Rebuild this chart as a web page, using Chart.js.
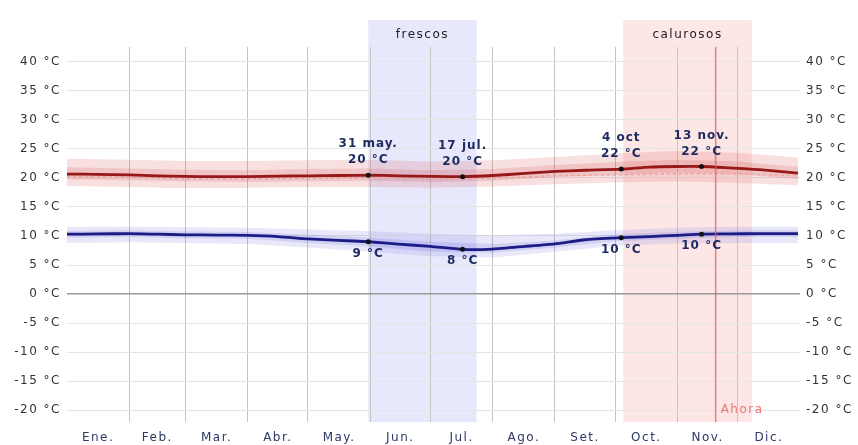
<!DOCTYPE html>
<html>
<head>
<meta charset="utf-8">
<script src="https://cdn.jsdelivr.net/npm/chart.js@4"></script>
<style>
  body { margin: 0; background: #fff; }
</style>
</head>
<body>
<canvas id="tempChart" width="858" height="445"></canvas>
<script>
// day of year for the average lines
const days = [0, 15, 31, 45, 59, 75, 90, 105, 120, 135, 150, 165, 181, 197, 212, 228, 243, 258, 276, 290, 304, 316, 330, 345, 364];
const highAvg = [20.65, 20.6, 20.5, 20.35, 20.25, 20.2, 20.2, 20.3, 20.35, 20.4, 20.45, 20.35, 20.25, 20.2, 20.4, 20.75, 21.1, 21.3, 21.5, 21.85, 21.95, 21.95, 21.7, 21.4, 20.8];
const lowAvg = [10.3, 10.35, 10.4, 10.3, 10.2, 10.15, 10.1, 9.9, 9.5, 9.25, 9.0, 8.6, 8.2, 7.7, 7.75, 8.2, 8.65, 9.35, 9.7, 9.9, 10.1, 10.3, 10.35, 10.4, 10.4];

// percentile bands (monthly)
const bandDays = [0, 31, 59, 90, 120, 151, 181, 212, 243, 273, 304, 334, 364];
const high90 = [23.3, 23.1, 22.9, 22.9, 23.0, 23.1, 22.8, 23.0, 23.6, 24.2, 24.6, 24.3, 23.5];
const high10 = [18.6, 18.4, 18.2, 18.3, 18.4, 18.4, 18.3, 18.5, 18.9, 19.2, 19.4, 19.1, 18.7];
const high75 = [21.8, 21.6, 21.4, 21.3, 21.5, 21.6, 21.3, 21.5, 22.2, 22.7, 23.1, 22.8, 21.9];
const high25 = [19.7, 19.6, 19.4, 19.3, 19.4, 19.5, 19.3, 19.5, 20.1, 20.5, 20.9, 20.6, 19.8];
const low90 = [11.6, 11.6, 11.5, 11.4, 11.1, 10.8, 10.4, 10.1, 10.4, 11.0, 11.4, 11.6, 11.6];
const low10 = [8.8, 8.9, 8.8, 8.6, 8.0, 7.3, 6.5, 6.3, 7.3, 8.3, 8.7, 8.8, 8.8];
const low75 = [10.9, 11.0, 10.8, 10.7, 10.2, 9.7, 9.0, 8.6, 9.2, 10.3, 10.7, 11.0, 11.0];
const low25 = [9.7, 9.8, 9.6, 9.5, 8.8, 8.2, 7.3, 7.1, 8.0, 9.1, 9.5, 9.8, 9.8];
const feelsHigh = [20.3, 20.1, 19.8, 19.8, 19.9, 20.0, 19.8, 19.9, 20.4, 20.5, 20.7, 20.7, 20.4];

// marked points
const markDays = [150, 197, 276, 316];
const markDates = ['31 may.', '17 jul.', '4 oct', '13 nov.'];

// axes
const months = ['Ene.', 'Feb.', 'Mar.', 'Abr.', 'May.', 'Jun.', 'Jul.', 'Ago.', 'Set.', 'Oct.', 'Nov.', 'Dic.'];
const monthStarts = [0, 31, 59, 90, 120, 151, 181, 212, 243, 273, 304, 334, 365];
const yTicks = [-20, -15, -10, -5, 0, 5, 10, 15, 20, 25, 30, 35, 40];

// seasons and "now"
const seasons = [
    { label: 'frescos', from: 150, to: 204, color: 'rgba(205,205,250,0.45)' },
    { label: 'calurosos', from: 277, to: 341, color: 'rgba(252,205,205,0.5)' }
];
const today = 323;

const FONT = '"DejaVu Sans", sans-serif';

const pts = (xs, ys) => xs.map((d, i) => ({ x: d, y: ys[i] }));
const monthMids = months.map((m, i) => (monthStarts[i] + monthStarts[i + 1]) / 2);

function band(xs, ys, color, fill, order) {
    return { data: pts(xs, ys), borderWidth: 0, pointRadius: 0, backgroundColor: color, fill, order };
}

const seasonPlugin = {
    id: 'seasons',
    beforeDraw(chart) {
        const { ctx, chartArea, scales: { x } } = chart;
        ctx.save();
        ctx.letterSpacing = '1.5px';
        seasons.forEach(s => {
            const x0 = x.getPixelForValue(s.from), x1 = x.getPixelForValue(s.to);
            ctx.fillStyle = s.color;
            ctx.fillRect(x0, 20, x1 - x0, chartArea.bottom - 20);
            ctx.fillStyle = '#222';
            ctx.font = '12px ' + FONT;
            ctx.textAlign = 'center';
            ctx.textBaseline = 'middle';
            ctx.fillText(s.label, (x0 + x1) / 2, 35);
        });
        ctx.restore();
        ctx.letterSpacing = '1.5px';
    },
    afterDatasetsDraw(chart) {
        const { ctx, chartArea, scales: { x, y } } = chart;
        ctx.save();
        ctx.letterSpacing = '1.5px';
        // now line
        const nx = x.getPixelForValue(today);
        ctx.strokeStyle = 'rgba(230,90,90,0.75)';
        ctx.lineWidth = 1.5;
        ctx.beginPath();
        ctx.moveTo(nx, chartArea.top);
        ctx.lineTo(nx, chartArea.bottom);
        ctx.stroke();
        ctx.fillStyle = '#ee7474';
        ctx.font = '12px ' + FONT;
        ctx.textAlign = 'left';
        ctx.textBaseline = 'middle';
        ctx.fillText('Ahora', nx + 5, 410);

        // mark labels
        ctx.letterSpacing = '1px';
        ctx.font = 'bold 12px ' + FONT;
        ctx.fillStyle = '#1f2c62';
        ctx.textAlign = 'center';
        markDays.forEach((d, i) => {
            const px = x.getPixelForValue(d);
            const hv = highAvg[days.indexOf(d)];
            const hy = y.getPixelForValue(hv);
            ctx.textBaseline = 'bottom';
            ctx.fillText(markDates[i], px, hy - 25);
            ctx.fillText(Math.round(hv) + ' °C', px, hy - 9);
            const lv = lowAvg[days.indexOf(d)];
            const ly = y.getPixelForValue(lv);
            ctx.textBaseline = 'top';
            ctx.fillText(Math.round(lv) + ' °C', px, ly + 6);
        });
        ctx.restore();
    }
};

const yAxis = (position, width) => ({
    type: 'linear',
    position,
    min: -22,
    max: 42.5,
    afterBuildTicks: s => { s.ticks = yTicks.map(v => ({ value: v })); },
    afterFit: s => { s.width = width; },
    border: { display: false },
    ticks: {
        padding: 6,
        color: '#333',
        font: { family: FONT, size: 12 },
        callback: v => v + ' °C'
    },
    grid: position === 'left'
        ? { drawTicks: false, color: c => c.tick && c.tick.value === 0 ? '#9a9a9a' : '#e4e4e4', lineWidth: c => c.tick && c.tick.value === 0 ? 1.5 : 1 }
        : { display: false, drawTicks: false }
});

new Chart(document.getElementById('tempChart'), {
    type: 'line',
    data: {
        datasets: [
            { data: markDays.map(d => ({ x: d, y: highAvg[days.indexOf(d)] })), showLine: false, pointRadius: 2.5, pointBackgroundColor: '#111', pointBorderWidth: 0, order: 0 },
            { data: markDays.map(d => ({ x: d, y: lowAvg[days.indexOf(d)] })), showLine: false, pointRadius: 2.5, pointBackgroundColor: '#111', pointBorderWidth: 0, order: 0 },
            { data: pts(days, highAvg), borderColor: '#961818', borderWidth: 2.8, pointRadius: 0, tension: 0.2, order: 1 },
            { data: pts(days, lowAvg), borderColor: '#1c1c86', borderWidth: 2.8, pointRadius: 0, tension: 0.2, order: 1 },
            { data: pts(bandDays, feelsHigh), borderColor: 'rgba(235,160,160,0.9)', borderWidth: 1.5, borderDash: [3, 3], pointRadius: 0, order: 2 },
            band(bandDays, high75, 'rgba(205,70,70,0.18)', '+1', 3),
            band(bandDays, high25, 'rgba(0,0,0,0)', false, 3),
            band(bandDays, high90, 'rgba(220,100,100,0.2)', '+1', 4),
            band(bandDays, high10, 'rgba(0,0,0,0)', false, 4),
            band(bandDays, low75, 'rgba(90,90,210,0.16)', '+1', 3),
            band(bandDays, low25, 'rgba(0,0,0,0)', false, 3),
            band(bandDays, low90, 'rgba(110,110,225,0.16)', '+1', 4),
            band(bandDays, low10, 'rgba(0,0,0,0)', false, 4)
        ]
    },
    options: {
        responsive: false,
        animation: false,
        layout: { padding: { top: 47, left: 0, right: 0, bottom: 0 } },
        plugins: { legend: { display: false }, tooltip: { enabled: false } },
        scales: {
            x: {
                type: 'linear',
                position: 'bottom',
                min: 0,
                max: 365,
                afterBuildTicks: s => { s.ticks = monthMids.map(v => ({ value: v })); },
                afterFit: s => { s.height = 23; },
                border: { display: false },
                grid: { display: false, drawTicks: false },
                ticks: {
                    padding: 9,
                    maxRotation: 0,
                    autoSkip: false,
                    color: '#2d3866',
                    font: { family: FONT, size: 12 },
                    callback: (v, i) => months[i]
                }
            },
            xGrid: {
                type: 'linear',
                position: 'top',
                min: 0,
                max: 365,
                afterBuildTicks: s => { s.ticks = monthStarts.slice(1, 12).map(v => ({ value: v })); },
                afterFit: s => { s.height = 0; },
                border: { display: false },
                grid: { drawTicks: false, color: '#c4c4c4' },
                ticks: { display: false }
            },
            y: yAxis('left', 67),
            y2: yAxis('right', 58)
        }
    },
    plugins: [seasonPlugin]
});
</script>
</body>
</html>
